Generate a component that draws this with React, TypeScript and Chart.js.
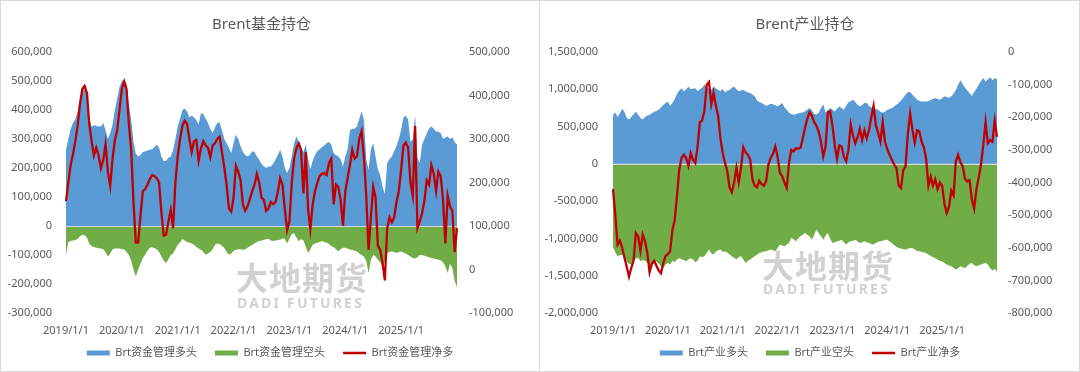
import React, { useEffect, useRef } from 'react';
import { Chart, registerables } from 'chart.js';

Chart.register(...registerables);

const FONT = '"Noto Sans", "Noto Sans CJK SC", sans-serif';
const TEXT = '#595959';
const BLUE = '#5B9BD5';
const GREEN = '#70AD47';
const RED = '#C00000';

// Half-monthly categories, 2019/1/1 .. 2026/1/1
const dateLabels: string[] = Array.from({ length: 169 }, (_, i) =>
  `${2019 + Math.floor(i / 24)}/${Math.floor((i % 24) / 2) + 1}/${i % 2 ? 15 : 1}`
);

// ---- Brent managed money (thousand lots) ----
const fundLong = [
  262, 300, 335, 355, 368, 395, 435, 475, 470, 455,
  370, 342, 348, 345, 343, 343, 355, 330, 300, 320,
  350, 400, 440, 480, 500, 505, 490, 420, 367, 290,
  250, 240, 245, 255, 257, 260, 263, 265, 272, 280,
  270, 240, 223, 225, 235, 240, 260, 300, 343, 370,
  400, 405, 395, 375, 380, 375, 365, 350, 390, 385,
  370, 355, 335, 321, 340, 355, 358, 330, 300, 285,
  270, 252, 285, 315, 300, 275, 255, 245, 240, 245,
  258, 255, 240, 229, 215, 206, 200, 205, 205, 215,
  229, 245, 263, 240, 200, 183, 200, 240, 285, 309,
  290, 270, 255, 280, 235, 195, 225, 245, 258, 265,
  272, 278, 285, 290, 280, 252, 245, 240, 230, 205,
  240, 265, 330, 335, 335, 343, 370, 395, 367, 229,
  195, 265, 285, 240, 195, 175, 135, 110, 217, 230,
  240, 258, 275, 300, 332, 375, 380, 367, 290, 300,
  384, 235, 217, 280, 300, 320, 335, 343, 335, 326,
  325, 321, 300, 305, 309, 300, 306, 290, 280,
];
const fundShort = [
  -100, -55, -52, -50, -48, -45, -35, -30, -32, -40,
  -60, -70, -72, -75, -77, -78, -80, -90, -105, -95,
  -80, -78, -78, -78, -80, -80, -90, -99, -120, -150,
  -174, -150, -130, -110, -99, -85, -75, -73, -77, -80,
  -90, -105, -120, -128, -115, -100, -95, -80, -65, -57,
  -45, -50, -55, -58, -60, -65, -72, -78, -82, -90,
  -99, -95, -90, -80, -65, -60, -62, -68, -75, -90,
  -99, -95, -85, -82, -80, -80, -82, -80, -75, -70,
  -65, -60, -55, -52, -50, -48, -45, -44, -50, -52,
  -50, -48, -47, -42, -45, -60, -45, -28, -25, -40,
  -53, -45, -50, -70, -93, -80, -65, -60, -58, -55,
  -52, -55, -58, -62, -70, -72, -80, -87, -80, -75,
  -75, -78, -81, -83, -85, -88, -95, -100, -105, -120,
  -162, -116, -100, -105, -116, -125, -139, -120, -93, -90,
  -88, -90, -93, -90, -88, -92, -95, -100, -105, -110,
  -112, -108, -100, -100, -103, -105, -108, -110, -112, -114,
  -116, -118, -125, -139, -162, -130, -145, -190, -210,
];
const fundNet = [
  157, 200, 240, 265, 295, 330, 380, 415, 422, 405,
  335, 295, 262, 280, 262, 232, 252, 288, 225, 192,
  255, 298, 320, 368, 415, 432, 415, 335, 275, 155,
  62, 62, 125, 180, 185, 195, 208, 217, 215, 210,
  200, 130, 78, 80, 110, 137, 95, 200, 260, 300,
  330, 342, 335, 300, 270, 295, 298, 250, 278, 295,
  285, 280, 258, 285, 290, 300, 305, 270, 235, 195,
  140, 133, 165, 238, 225, 205, 150, 135, 145, 162,
  180, 195, 220, 200, 165, 160, 135, 140, 155, 150,
  155, 178, 210, 195, 140, 90, 110, 200, 255, 279,
  290, 275, 175, 270, 140, 92, 150, 180, 200, 215,
  220, 222, 217, 245, 255, 150, 195, 190, 160, 100,
  180, 210, 240, 275, 255, 260, 300, 318, 260, 170,
  45, 120, 190, 165, 55, 45, 15, -25, 95, 120,
  108, 120, 155, 180, 230, 285, 292, 280, 200, 170,
  330, 95, 110, 130, 158, 205, 195, 240, 220, 180,
  225, 215, 160, 60, 170, 145, 135, 40, 95,
];

// ---- Brent producers / merchants (thousand lots) ----
const indLong = [
  660, 690, 630, 680, 740, 700, 615, 595, 630, 665,
  700, 660, 615, 595, 630, 650, 660, 680, 700, 710,
  725, 760, 790, 815, 835, 775, 815, 870, 940, 985,
  1015, 975, 1000, 1035, 1000, 1010, 1015, 975, 1000, 1020,
  1060, 1030, 1005, 995, 1035, 1010, 995, 975, 1005, 960,
  980, 990, 1020, 1035, 1000, 975, 985, 990, 975, 960,
  950, 930, 905, 850, 830, 815, 800, 780, 790, 805,
  800, 785, 770, 790, 815, 760, 726, 690, 670, 660,
  665, 680, 685, 690, 703, 726, 749, 720, 670, 665,
  682, 750, 800, 690, 720, 749, 725, 703, 740, 770,
  750, 726, 780, 825, 840, 860, 830, 790, 770, 790,
  815, 815, 780, 755, 745, 735, 726, 700, 685, 700,
  726, 735, 745, 770, 795, 815, 850, 885, 930, 960,
  965, 927, 895, 860, 845, 837, 837, 837, 840, 855,
  870, 883, 870, 860, 880, 905, 895, 883, 905, 940,
  990, 1060, 1120, 1070, 1020, 985, 950, 910, 960, 1010,
  1061, 1110, 1150, 1100, 1130, 1160, 1120, 1150, 1130,
];
const indShort = [
  -1110, -1190, -1235, -1225, -1220, -1260, -1310, -1340, -1350, -1300,
  -1270, -1260, -1305, -1290, -1300, -1325, -1370, -1350, -1320, -1310,
  -1340, -1375, -1395, -1350, -1330, -1350, -1300, -1320, -1280, -1265,
  -1280, -1290, -1305, -1280, -1265, -1280, -1320, -1300, -1240, -1250,
  -1240, -1195, -1150, -1200, -1215, -1175, -1160, -1150, -1180, -1175,
  -1190, -1215, -1240, -1260, -1284, -1250, -1239, -1280, -1328, -1300,
  -1284, -1260, -1239, -1215, -1194, -1185, -1175, -1172, -1160, -1150,
  -1160, -1172, -1130, -1083, -1095, -1105, -1080, -1061, -994, -1010,
  -1039, -1000, -972, -950, -927, -950, -972, -1017, -950, -882,
  -930, -972, -1017, -960, -927, -1000, -1061, -1050, -1039, -1030,
  -1017, -1050, -1083, -1050, -1039, -1030, -1017, -1040, -1061, -1050,
  -1039, -1050, -1060, -1075, -1083, -1060, -1045, -1039, -1030, -1020,
  -1017, -1040, -1061, -1090, -1110, -1127, -1135, -1145, -1150, -1140,
  -1127, -1127, -1150, -1170, -1172, -1180, -1190, -1194, -1215, -1239,
  -1250, -1265, -1284, -1300, -1310, -1328, -1350, -1365, -1373, -1395,
  -1418, -1400, -1373, -1385, -1395, -1370, -1340, -1328, -1360, -1373,
  -1360, -1350, -1340, -1328, -1350, -1400, -1430, -1410, -1440,
];
const indNet = [
  -420, -500, -590, -578, -600, -630, -658, -688, -662, -640,
  -555, -565, -610, -560, -580, -615, -675, -650, -640, -655,
  -670, -678, -647, -625, -620, -610, -545, -515, -440, -360,
  -325, -315, -325, -350, -310, -330, -340, -290, -215, -210,
  -180, -100, -92, -160, -125, -165, -195, -265, -310, -340,
  -365, -415, -430, -400, -355, -400, -355, -292, -308, -315,
  -330, -390, -410, -415, -395, -405, -410, -395, -345, -325,
  -312, -290, -320, -370, -380, -400, -417, -340, -300, -305,
  -295, -296, -294, -265, -232, -205, -185, -195, -215, -226,
  -245, -275, -320, -290, -185, -182, -225, -285, -328, -286,
  -290, -320, -335, -300, -222, -255, -280, -262, -235, -270,
  -240, -265, -240, -200, -165, -225, -248, -275, -215, -275,
  -298, -315, -330, -345, -355, -410, -417, -362, -350, -250,
  -188, -238, -278, -240, -243, -275, -292, -328, -410, -382,
  -410, -390, -420, -400, -410, -465, -494, -475, -425, -440,
  -335, -315, -338, -350, -388, -397, -393, -452, -480, -420,
  -385, -345, -285, -215, -280, -270, -275, -210, -260,
];

// Axis ranges (thousand lots): [min, max, step]
const fundLeftAxis = [-300, 600, 100];
const fundRightAxis = [-100, 500, 100];
const indLeftAxis = [-2000, 1500, 500];
const indRightAxis = [-800, 0, 100];

const fmt = (v: any) => (Number(v) * 1000).toLocaleString('en-US');
const tickFont = { family: FONT, size: 11 };

type Spec = {
  title: string;
  names: [string, string, string];
  long: number[];
  short: number[];
  net: number[];
  left: number[];
  right: number[];
  leftWidth: number;
  rightWidth: number;
  leftPad: number;
  rightPad: number;
};

function buildConfig(s: Spec): any {
  const zeroLine = {
    id: 'zeroLine',
    beforeDatasetDraw(chart: any, args: any) {
      if (args.index !== 2) return;
      const y = Math.round(chart.scales.y.getPixelForValue(0)) + 0.5;
      const { left, right } = chart.chartArea;
      const ctx = chart.ctx;
      ctx.save();
      ctx.strokeStyle = '#D9D9D9';
      ctx.lineWidth = 1;
      ctx.beginPath();
      ctx.moveTo(left, y);
      ctx.lineTo(right, y);
      ctx.stroke();
      ctx.restore();
    },
  };
  const legendShift = {
    id: 'legendShift',
    afterLayout(chart: any) {
      const l = chart.legend;
      if (l) {
        l.top -= 10.5;
        l.bottom -= 10.5;
      }
    },
  };
  return {
    type: 'line',
    data: {
      labels: dateLabels,
      datasets: [
        {
          label: s.names[0], data: s.long, yAxisID: 'y', fill: 'origin',
          backgroundColor: BLUE, borderColor: BLUE, borderWidth: 0,
          pointRadius: 0, pointBorderWidth: 0, pointStyle: 'rect', order: 1,
        },
        {
          label: s.names[1], data: s.short, yAxisID: 'y', fill: 'origin',
          backgroundColor: GREEN, borderColor: GREEN, borderWidth: 0,
          pointRadius: 0, pointBorderWidth: 0, pointStyle: 'rect', order: 1,
        },
        {
          label: s.names[2], data: s.net, yAxisID: 'y1', fill: false,
          backgroundColor: RED, borderColor: RED, borderWidth: 2.3,
          pointRadius: 0, pointBorderWidth: 2.5, pointStyle: 'line', order: 0,
        },
      ],
    },
    options: {
      animation: false,
      responsive: false,
      maintainAspectRatio: false,
      events: [],
      layout: { padding: { top: 0, bottom: -7, left: 0, right: 0 } },
      plugins: {
        title: {
          display: true, text: s.title, fullSize: false, color: TEXT,
          font: { family: FONT, size: 15, weight: 'normal' },
          padding: { top: 16, bottom: 18 },
        },
        legend: {
          position: 'bottom',
          labels: {
            usePointStyle: true, pointStyleWidth: 23, boxHeight: 5, padding: 18,
            color: TEXT, font: tickFont,
            sort: (a: any, b: any) => a.datasetIndex - b.datasetIndex,
          },
        },
        tooltip: { enabled: false },
      },
      scales: {
        x: {
          type: 'category', offset: false,
          grid: { display: false, drawTicks: false },
          border: { display: false },
          ticks: {
            autoSkip: false, maxRotation: 0, minRotation: 0, padding: 11,
            color: TEXT, font: tickFont,
            callback: (_v: any, i: number) => (i % 24 === 0 && i < 168 ? dateLabels[i] : ''),
          },
          afterFit: (sc: any) => { sc.height = 27; },
        },
        y: {
          position: 'left', min: s.left[0], max: s.left[1],
          grid: { display: false, drawTicks: false },
          border: { display: false },
          ticks: { stepSize: s.left[2], padding: s.leftPad, color: TEXT, font: tickFont, callback: fmt },
          afterFit: (sc: any) => { sc.width = s.leftWidth; },
        },
        y1: {
          position: 'right', min: s.right[0], max: s.right[1],
          grid: { display: false, drawTicks: false },
          border: { display: false },
          ticks: { stepSize: s.right[2], padding: s.rightPad, color: TEXT, font: tickFont, callback: fmt },
          afterFit: (sc: any) => { sc.width = s.rightWidth; },
        },
      },
    },
    plugins: [zeroLine, legendShift],
  };
}

function Panel({ spec, left }: { spec: Spec; left: number }) {
  const ref = useRef<HTMLCanvasElement | null>(null);
  useEffect(() => {
    if (!ref.current) return;
    const chart = new Chart(ref.current, buildConfig(spec));
    return () => chart.destroy();
  }, []);
  return (
    <canvas
      ref={ref}
      width={540}
      height={372}
      style={{ position: 'absolute', left, top: 0, width: 540, height: 372 }}
    />
  );
}

const fundSpec: Spec = {
  title: 'Brent基金持仓',
  names: ['Brt资金管理多头', 'Brt资金管理空头', 'Brt资金管理净多'],
  long: fundLong, short: fundShort, net: fundNet,
  left: fundLeftAxis, right: fundRightAxis,
  leftWidth: 66, rightWidth: 83, leftPad: 14, rightPad: 12,
};

const indSpec: Spec = {
  title: 'Brent产业持仓',
  names: ['Brt产业多头', 'Brt产业空头', 'Brt产业净多'],
  long: indLong, short: indShort, net: indNet,
  left: indLeftAxis, right: indRightAxis,
  leftWidth: 73, rightWidth: 83, leftPad: 15, rightPad: 11,
};

const wmBig: React.CSSProperties = {
  position: 'absolute', fontFamily: '"Noto Sans CJK SC", sans-serif', fontWeight: 700,
  fontSize: 32, lineHeight: '34px', color: 'rgba(190,190,190,0.7)', letterSpacing: 1,
  pointerEvents: 'none', whiteSpace: 'nowrap',
};
const wmSmall: React.CSSProperties = {
  position: 'absolute', fontFamily: '"Noto Sans", sans-serif', fontWeight: 700,
  fontSize: 14, lineHeight: '14px', color: 'rgba(190,190,190,0.7)', letterSpacing: 2.2,
  pointerEvents: 'none', whiteSpace: 'nowrap',
};

export default function App() {
  return (
    <div style={{ position: 'relative', width: 1080, height: 372, background: '#fff', overflow: 'hidden' }}>
      <style>{'body{margin:0;}'}</style>
      <Panel spec={fundSpec} left={0} />
      <Panel spec={indSpec} left={540} />
      <div style={{ ...wmBig, left: 236, top: 259 }}>大地期货</div>
      <div style={{ ...wmSmall, left: 237, top: 296 }}>DADI FUTURES</div>
      <div style={{ ...wmBig, left: 762, top: 247 }}>大地期货</div>
      <div style={{ ...wmSmall, left: 763, top: 282 }}>DADI FUTURES</div>
      <div style={{
        position: 'absolute', left: 0, top: 0, width: 1080, height: 372,
        boxSizing: 'border-box', border: '1px solid #D9D9D9', pointerEvents: 'none',
      }} />
      <div style={{ position: 'absolute', left: 539, top: 0, width: 1, height: 372, background: '#D9D9D9' }} />
    </div>
  );
}
